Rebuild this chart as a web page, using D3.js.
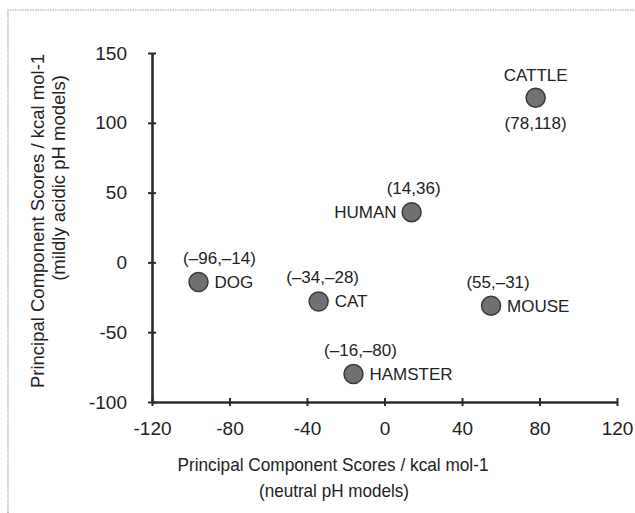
<!DOCTYPE html>
<html>
<head>
<meta charset="utf-8">
<script src="https://cdn.jsdelivr.net/npm/d3@7"></script>
<style>
  html, body { margin: 0; padding: 0; background: #fff; }
  svg { display: block; font-family: "Liberation Sans", Arial, sans-serif; }
  .axis path, .axis line { stroke: #2b2b2b; }
  .axis text { fill: #222; font-size: 19px; }
  .pt-label { fill: #222; font-size: 17px; }
  .ax-title { fill: #222; font-size: 18.5px; }
</style>
</head>
<body>
<div id="chart"></div>
<script>
// species and their principal component scores
const species = ['CATTLE', 'HUMAN', 'DOG', 'CAT', 'MOUSE', 'HAMSTER'];
const scoreNeutral = [78, 14, -96, -34, 55, -16];
const scoreAcidic = [118, 36, -14, -28, -31, -80];

const xTicks = [-120, -80, -40, 0, 40, 80, 120];
const yTicks = [-100, -50, 0, 50, 100, 150];

const xTitle = ['Principal Component Scores / kcal mol-1', '(neutral pH models)'];
const yTitle = ['Principal Component Scores / kcal mol-1', '(mildly acidic pH models)'];

// where the name sits relative to the dot
const namePlace = {
  CATTLE: 'above', HUMAN: 'left', DOG: 'right',
  CAT: 'right', MOUSE: 'right', HAMSTER: 'right'
};

const width = 635;
const height = 513;

const x = d3.scaleLinear().domain([-120, 120]).range([152, 617]);
const y = d3.scaleLinear().domain([-100, 150]).range([402, 53]);

const svg = d3.select('#chart')
  .append('svg')
  .attr('width', width)
  .attr('height', height);

// dotted frame round the figure (top and left only visible)
svg.append('path')
  .attr('d', `M8,${height} L8,10 L${width},10`)
  .attr('fill', 'none')
  .attr('stroke', '#9a9a9a')
  .attr('stroke-width', 1.2)
  .attr('stroke-dasharray', '1.5,1');

// x axis
const gx = svg.append('g')
  .attr('class', 'axis')
  .attr('transform', `translate(0,${y(-100)})`)
  .call(d3.axisBottom(x).tickValues(xTicks).tickSize(0).tickSizeOuter(0).tickPadding(20)
    .tickFormat(d3.format('d')));
gx.select('.domain').attr('stroke-width', 2.6);
gx.selectAll('.tick line').attr('y1', -4).attr('y2', 4).attr('stroke-width', 2);

// y axis
const gy = svg.append('g')
  .attr('class', 'axis')
  .attr('transform', `translate(${x(-120)},0)`)
  .call(d3.axisLeft(y).tickValues(yTicks).tickSize(0).tickSizeOuter(0).tickPadding(25)
    .tickFormat(d3.format('d')));
gy.select('.domain').attr('stroke-width', 2.6);
gy.selectAll('.tick line').attr('x1', -4).attr('x2', 4).attr('stroke-width', 2);

// use plain hyphen minus like the source
svg.selectAll('.axis text').text(function() {
  return this.textContent.replace('\u2212', '-');
});

// axis titles (the source font is a little narrower)
svg.append('text').attr('class', 'ax-title')
  .attr('x', 333).attr('y', 471).attr('text-anchor', 'middle')
  .attr('textLength', 311).attr('lengthAdjust', 'spacingAndGlyphs')
  .text(xTitle[0]);
svg.append('text').attr('class', 'ax-title')
  .attr('x', 334).attr('y', 497).attr('text-anchor', 'middle')
  .attr('textLength', 150).attr('lengthAdjust', 'spacingAndGlyphs')
  .text(xTitle[1]);

svg.append('text').attr('class', 'ax-title')
  .attr('transform', 'translate(44,221) rotate(-90)')
  .attr('text-anchor', 'middle').text(yTitle[0]);
svg.append('text').attr('class', 'ax-title')
  .attr('transform', 'translate(65,178) rotate(-90)')
  .attr('text-anchor', 'middle').text(yTitle[1]);

// points
const data = species.map((name, i) => ({
  name: name, xv: scoreNeutral[i], yv: scoreAcidic[i]
}));

const fmt = v => (v < 0 ? '\u2013' + Math.abs(v) : String(v));

const pts = svg.selectAll('g.pt')
  .data(data)
  .enter()
  .append('g')
  .attr('class', 'pt')
  .attr('transform', d => `translate(${x(d.xv)},${y(d.yv)})`);

pts.append('circle')
  .attr('r', 9.5)
  .attr('fill', '#717171')
  .attr('stroke', '#3a3a3a')
  .attr('stroke-width', 1.5);

pts.append('text')
  .attr('class', 'pt-label')
  .attr('text-anchor', d => (namePlace[d.name] === 'left' ? 'end' : namePlace[d.name] === 'above' ? 'middle' : 'start'))
  .attr('x', d => (namePlace[d.name] === 'left' ? -15 : namePlace[d.name] === 'above' ? 0 : 16))
  .attr('y', d => (namePlace[d.name] === 'above' ? -17 : 6))
  .text(d => d.name);

pts.append('text')
  .attr('class', 'pt-label')
  .attr('text-anchor', 'middle')
  .attr('x', d => (namePlace[d.name] === 'above' ? 0 : namePlace[d.name] === 'left' ? 2 : d.name === 'CAT' ? 4 : d.name === 'DOG' ? 21 : 7))
  .attr('y', d => (namePlace[d.name] === 'above' ? 31 : -18))
  .text(d => `(${fmt(d.xv)},${fmt(d.yv)})`);
</script>
</body>
</html>
